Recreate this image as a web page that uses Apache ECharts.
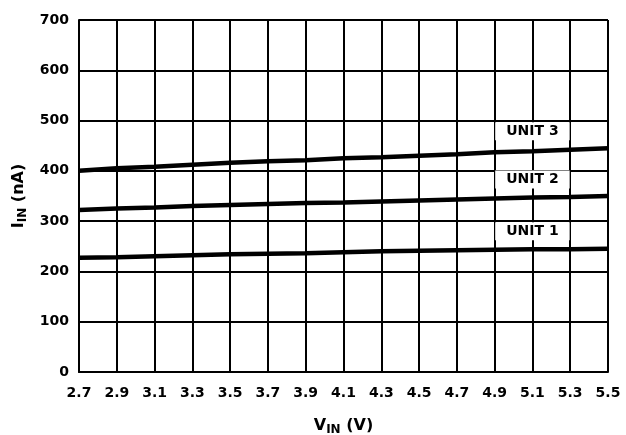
<!DOCTYPE html>
<html>
<head>
<meta charset="utf-8">
<script src="https://cdn.jsdelivr.net/npm/echarts@6/dist/echarts.min.js"></script>
<style>
html,body{margin:0;padding:0;background:#fff;}
#chart{width:626px;height:435px;}
</style>
</head>
<body>
<div id="chart"></div>
<script>
var vinCategories = ['2.7','2.9','3.1','3.3','3.5','3.7','3.9','4.1','4.3','4.5','4.7','4.9','5.1','5.3','5.5'];
var unit1 = [227,228,230,232,234,235,236,238,240,241,242,243,244,244,245];
var unit2 = [322,325,327,330,332,334,336,337,339,341,343,345,347,348,350];
var unit3 = [400,405,408,412,416,419,421,425,427,430,433,437,439,442,445];
var unitNames = ['UNIT 1','UNIT 2','UNIT 3'];
var unitLabelX = ['5.1','5.1','5.1'];
var unitLabelY = [280,383,479];
var yTicks = [0,100,200,300,400,500,600,700];

var FONT = '"DejaVu Sans", "Liberation Sans", Arial, sans-serif';
var chart = echarts.init(document.getElementById('chart'), null, {renderer:'canvas'});

var lineStyle = {color:'#000', width:4.5};
function lineSeries(name, data){
  return {name:name, type:'line', data:data, symbol:'none', smooth:false,
    lineStyle:lineStyle, z:3, silent:true};
}

var labelData = unitNames.map(function(n,i){ return [unitLabelX[i], unitLabelY[i], n]; });

var nameStyle = {color:'#000', fontFamily:FONT, fontWeight:'bold', fontSize:16,
  rich:{sub:{fontFamily:FONT, fontWeight:'bold', fontSize:12, color:'#000', padding:[8,0,0,0]}}};

chart.setOption({
  animation:false,
  backgroundColor:'#fff',
  grid:{left:79, right:18, top:20, bottom:63, containLabel:false, outerBoundsMode:'none'},
  xAxis:{
    type:'category', data:vinCategories, boundaryGap:false,
    axisLine:{show:true, lineStyle:{color:'#000', width:2}},
    axisTick:{show:false},
    axisLabel:{color:'#000', fontFamily:FONT, fontWeight:'bold', fontSize:14, margin:14, interval:0},
    splitLine:{show:true, lineStyle:{color:'#000', width:2}},
    name:'V{sub|IN} (V)', nameLocation:'middle', nameGap:44,
    nameTextStyle:nameStyle
  },
  yAxis:{
    type:'value', min:yTicks[0], max:yTicks[yTicks.length-1], interval:100,
    axisLine:{show:true, lineStyle:{color:'#000', width:2}},
    axisTick:{show:false},
    axisLabel:{color:'#000', fontFamily:FONT, fontWeight:'bold', fontSize:14, margin:10},
    splitLine:{show:true, lineStyle:{color:'#000', width:2}},
    name:'I{sub|IN} (nA)', nameLocation:'middle', nameGap:44, nameRotate:90,
    nameTextStyle:nameStyle
  },
  series:[
    lineSeries('UNIT 1', unit1),
    lineSeries('UNIT 2', unit2),
    lineSeries('UNIT 3', unit3),
    {type:'scatter', data:labelData, symbolSize:0, z:5, silent:true,
      itemStyle:{opacity:1},
      label:{show:true, position:'inside', formatter:function(p){return p.data[2];},
        color:'#000', fontFamily:FONT, fontWeight:'bold', fontSize:14,
        backgroundColor:'#fff', padding:[2,11,2,11]}}
  ]
});
</script>
</body>
</html>
